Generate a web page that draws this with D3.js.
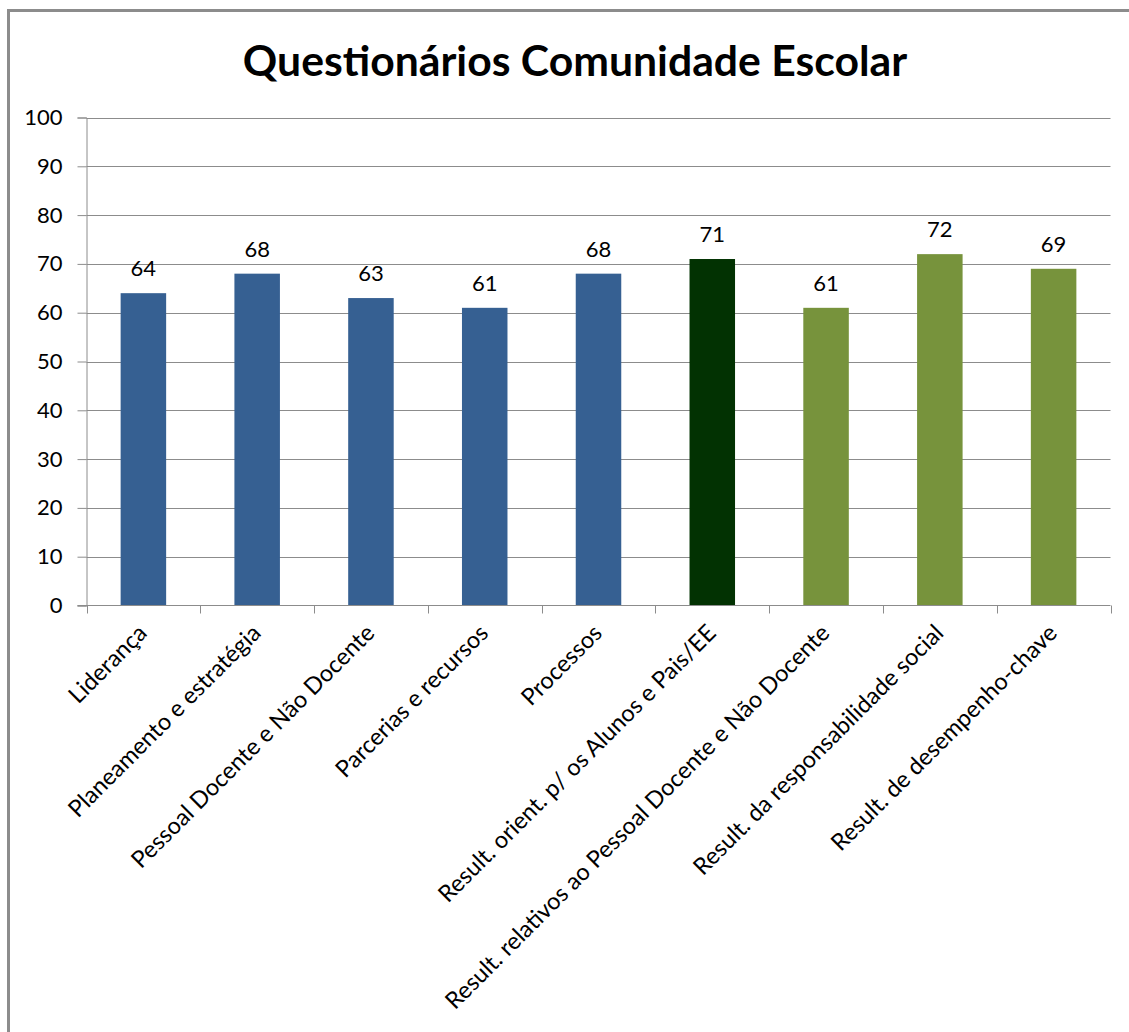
<!DOCTYPE html>
<html>
<head>
<meta charset="utf-8">
<script src="https://cdn.jsdelivr.net/npm/d3@7"></script>
<style>
  html, body { margin: 0; padding: 0; background: #fff; }
  svg { display: block; }
  text { font-family: Lato, "Open Sans", sans-serif; fill: #000; }
</style>
</head>
<body>
<svg id="chart" width="1129" height="1032"></svg>
<script>
// Categories, scores and bar colours
const categories = [
  "Liderança",
  "Planeamento e estratégia",
  "Pessoal Docente e Não Docente",
  "Parcerias e recursos",
  "Processos",
  "Result. orient. p/ os Alunos e Pais/EE",
  "Result. relativos ao Pessoal Docente e Não Docente",
  "Result. da responsabilidade social",
  "Result. de desempenho-chave"
];
const scores = [64, 68, 63, 61, 68, 71, 61, 72, 69];
const barColors = ["#366092", "#366092", "#366092", "#366092", "#366092",
                   "#023202", "#77933c", "#77933c", "#77933c"];
const yTicks = [0, 10, 20, 30, 40, 50, 60, 70, 80, 90, 100];
const title = "Questionários Comunidade Escolar";

const svg = d3.select("#chart");

// outer frame (left and top edges visible)
svg.append("path")
  .attr("d", "M8.5,1032 V10.5 H1129")
  .attr("fill", "none")
  .attr("stroke", "#8c8c8c")
  .attr("stroke-width", 3);

const plot = { left: 86.5, right: 1110.5, top: 117.5, bottom: 605.5 };

const x = d3.scaleBand()
  .domain(categories)
  .range([plot.left, plot.right])
  .paddingInner(0.6)
  .paddingOuter(0.3);

const xTick = d3.scaleBand()
  .domain(categories)
  .range([plot.left, plot.right]);

const y = d3.scaleLinear().domain([0, 100]).range([plot.bottom, plot.top]);

// title
svg.append("text")
  .attr("x", 575)
  .attr("y", 76)
  .attr("text-anchor", "middle")
  .style("font-weight", "bold")
  .style("font-size", "42.7px")
  .text(title);

// horizontal gridlines
svg.append("g")
  .selectAll("line")
  .data(yTicks.filter(d => d > 0))
  .join("line")
  .attr("x1", plot.left).attr("x2", plot.right)
  .attr("y1", d => Math.round(y(d)) + 0.5).attr("y2", d => Math.round(y(d)) + 0.5)
  .attr("stroke", "#8c8c8c")
  .attr("stroke-width", 1);

// y axis
const yAxis = svg.append("g")
  .attr("transform", `translate(${plot.left},0)`)
  .call(d3.axisLeft(y).tickValues(yTicks).tickSize(9).tickPadding(15).tickFormat(d3.format("d")));
yAxis.select(".domain").attr("stroke", "#8c8c8c");
yAxis.selectAll(".tick line").attr("stroke", "#8c8c8c");
yAxis.selectAll(".tick text").style("font-size", "22px").style("font-family", "Lato, sans-serif").attr("fill", "#000");

// bars
svg.append("g")
  .selectAll("rect")
  .data(scores)
  .join("rect")
  .attr("x", (d, i) => x(categories[i]))
  .attr("width", x.bandwidth())
  .attr("y", d => y(d))
  .attr("height", d => y(0) - y(d))
  .attr("fill", (d, i) => barColors[i]);

// value labels
svg.append("g")
  .selectAll("text")
  .data(scores)
  .join("text")
  .attr("x", (d, i) => x(categories[i]) + x.bandwidth() / 2)
  .attr("y", d => y(d) - 17)
  .attr("text-anchor", "middle")
  .style("font-size", "22px")
  .text(d => d);

// x axis baseline and tick marks
const xAxisG = svg.append("g");
xAxisG.append("line")
  .attr("x1", plot.left - 9).attr("x2", plot.right)
  .attr("y1", plot.bottom).attr("y2", plot.bottom)
  .attr("stroke", "#8c8c8c");
const tickXs = categories.map(c => xTick(c)).concat([plot.right]);
xAxisG.selectAll("line.tick")
  .data(tickXs)
  .join("line")
  .attr("class", "tick")
  .attr("x1", d => Math.round(d) + 0.5).attr("x2", d => Math.round(d) + 0.5)
  .attr("y1", plot.bottom).attr("y2", plot.bottom + 8)
  .attr("stroke", "#8c8c8c");

// rotated category labels
svg.append("g")
  .selectAll("text")
  .data(categories)
  .join("text")
  .attr("transform", c => `translate(${xTick(c) + xTick.bandwidth() / 2 + 5},${plot.bottom + 29}) rotate(-45)`)
  .attr("text-anchor", "end")
  .style("font-size", "23.5px")
  .text(c => c);
</script>
</body>
</html>
